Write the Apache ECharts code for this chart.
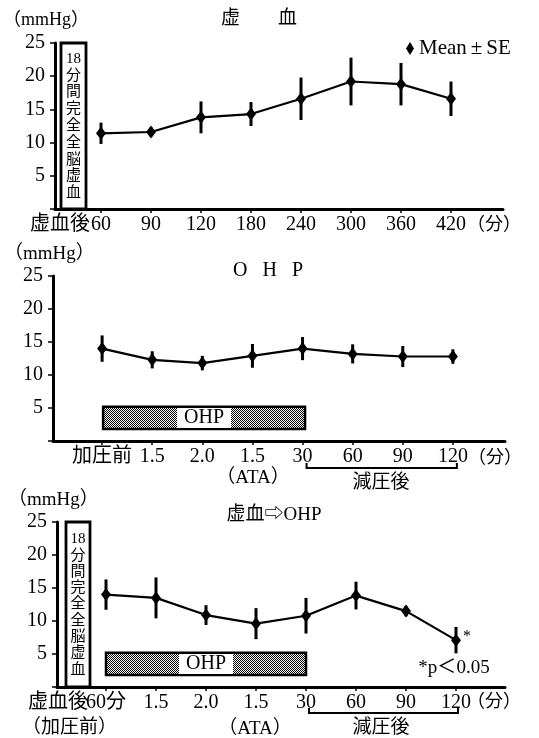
<!DOCTYPE html>
<html>
<head>
<meta charset="utf-8">
<title>虚血 / OHP</title>
<script src="https://cdn.jsdelivr.net/npm/echarts@6/dist/echarts.min.js"></script>
<style>
  html, body { margin: 0; background: #fff; }
  #main { width: 539px; height: 738px; }
</style>
</head>
<body>
<div id="main"></div>
<script>
var FONT = '"Liberation Serif", "Noto Sans CJK JP", serif';

// 上段: 虚血
var labels1 = ['60', '90', '120', '180', '240', '300', '360', '420'];
var mean1 = [11.4, 11.6, 13.8, 14.3, 16.6, 19.2, 18.8, 16.6];
var se1 = [1.6, 0.7, 2.4, 1.8, 3.2, 3.6, 3.2, 2.6];

// 中段: OHP
var labels2 = ['加圧前', '1.5', '2.0', '1.5', '30', '60', '90', '120'];
var mean2 = [14.0, 12.3, 11.8, 12.9, 14.0, 13.2, 12.8, 12.8];
var se2 = [2.0, 1.3, 1.1, 1.8, 1.75, 1.45, 1.6, 1.1];

// 下段: 虚血⇨OHP
var labels3 = ['60分', '1.5', '2.0', '1.5', '30', '60', '90', '120'];
var mean3 = [14.0, 13.5, 10.9, 9.6, 10.8, 13.85, 11.5, 7.1];
var se3 = [2.3, 3.1, 1.5, 2.35, 2.7, 2.1, 0.8, 2.0];
var signif3 = [7]; // *p<0.05

var yTicks = [0, 25, 5];
var boxText = '18\n分\n間\n完\n全\n全\n脳\n虚\n血';

var myChart = echarts.init(document.getElementById('main'));

// 網かけ (OHP のバー)
var pat = document.createElement('canvas');
pat.width = 4; pat.height = 4;
var pctx = pat.getContext('2d');
pctx.fillStyle = '#fff';
pctx.fillRect(0, 0, 4, 4);
pctx.fillStyle = '#000';
for (var py = 0; py < 4; py++) {
    for (var px = 0; px < 4; px++) {
        if ((px + py) % 2 == 0) pctx.fillRect(px, py, 1, 1);
    }
}

var idx8 = [0, 1, 2, 3, 4, 5, 6, 7];

function xAx(gi, min, max, labels) {
    return {
        type: 'value', gridIndex: gi, min: min, max: max,
        axisLine: { onZero: false, lineStyle: { color: '#000', width: 3 } },
        axisTick: { customValues: idx8, length: 4, lineStyle: { color: '#000', width: 1.5 } },
        axisLabel: {
            customValues: idx8, margin: 6, color: '#000', fontSize: 20, fontFamily: FONT,
            formatter: function (v) { return labels[Math.round(v)]; }
        },
        splitLine: { show: false }
    };
}

function yAx(gi) {
    return {
        type: 'value', gridIndex: gi, min: yTicks[0], max: yTicks[1], interval: yTicks[2],
        axisLine: { onZero: false, lineStyle: { color: '#000', width: 3 } },
        axisTick: { length: 5, lineStyle: { color: '#000', width: 1.5 } },
        axisLabel: {
            margin: 10, color: '#000', fontSize: 20, fontFamily: FONT,
            formatter: function (v) { return v == 0 ? '' : v; }
        },
        splitLine: { show: false }
    };
}

function errBars(mean, se, gi) {
    return {
        type: 'custom', xAxisIndex: gi, yAxisIndex: gi, silent: true, z: 3,
        data: mean.map(function (m, i) { return [i, m - se[i], m + se[i]]; }),
        renderItem: function (params, api) {
            var lo = api.coord([api.value(0), api.value(1)]);
            var hi = api.coord([api.value(0), api.value(2)]);
            return {
                type: 'line',
                shape: { x1: lo[0], y1: lo[1], x2: hi[0], y2: hi[1] },
                style: { stroke: '#000', lineWidth: 3 }
            };
        }
    };
}

function meanLine(name, mean, gi, areas, stars) {
    return {
        name: name, type: 'line', xAxisIndex: gi, yAxisIndex: gi, z: 4,
        symbol: 'diamond', symbolSize: [10, 13],
        itemStyle: { color: '#000' },
        lineStyle: { color: '#000', width: 2.2 },
        data: mean.map(function (m, i) {
            if (stars && stars.indexOf(i) >= 0) {
                return { value: [i, m], label: { show: true, formatter: '*', position: 'right',
                    offset: [-3, -3], fontSize: 16, color: '#000', fontFamily: FONT } };
            }
            return [i, m];
        }),
        markArea: { silent: true, data: areas }
    };
}

function boxArea(x0, x1, lh) {
    return [{
        coord: [x0, 0],
        itemStyle: { color: '#fff', borderColor: '#000', borderWidth: 2.8 },
        label: { show: true, position: 'inside', formatter: boxText, color: '#000',
            fontSize: 15, lineHeight: lh, fontFamily: FONT }
    }, { coord: [x1, 25] }];
}

function ohpArea(x0, x1) {
    return [{
        coord: [x0, 1.8],
        itemStyle: { color: { image: pat, repeat: 'repeat' }, borderColor: '#000', borderWidth: 2.5 },
        label: { show: true, position: 'inside', formatter: 'OHP', color: '#000', fontSize: 20,
            fontFamily: FONT, backgroundColor: '#fff', padding: [0, 7] }
    }, { coord: [x1, 5.2] }];
}

// 減圧後 の括弧
function bracket(gi, a, b, drop) {
    return {
        type: 'custom', xAxisIndex: gi, yAxisIndex: gi, silent: true,
        data: [[a, b]],
        renderItem: function (params, api) {
            var p1 = api.coord([api.value(0), 0]);
            var p2 = api.coord([api.value(1), 0]);
            var y = p1[1] + drop;
            return {
                type: 'polyline',
                shape: { points: [[p1[0], y - 5], [p1[0], y], [p2[0], y], [p2[0], y - 5]] },
                style: { stroke: '#000', fill: null, lineWidth: 2 }
            };
        }
    };
}

function txt(s, x, y, size, align) {
    return {
        type: 'text', x: x, y: y,
        style: { text: s, fill: '#000', font: size + 'px ' + FONT,
            textAlign: align || 'center', textVerticalAlign: 'middle' }
    };
}

option = {
    backgroundColor: '#fff',
    animation: false,
    legend: {
        data: ['Mean±SE'], left: 401, top: 33, icon: 'diamond',
        itemWidth: 8, itemHeight: 13, itemGap: 4,
        formatter: 'Mean{pm|±}SE',
        textStyle: { color: '#000', fontSize: 21, fontFamily: FONT,
            rich: { pm: { fontSize: 21, fontFamily: FONT, padding: [0, 4] } } }
    },
    grid: [
        { left: 55, top: 43, width: 448, height: 166 },
        { left: 53, top: 276, width: 452, height: 165 },
        { left: 57, top: 522, width: 448, height: 165 }
    ],
    xAxis: [
        xAx(0, -0.92, 8.04, labels1),
        xAx(1, -0.98, 8.04, labels2),
        xAx(2, -0.98, 7.98, labels3)
    ],
    yAxis: [yAx(0), yAx(1), yAx(2)],
    graphic: [
        txt('（mmHg）', 3, 20, 18, 'left'),
        txt('虚　　血', 259, 19, 19),
        txt('虚血後', 90, 225, 20, 'right'),
        txt('（分）', 467, 225, 18, 'left'),

        txt('（mmHg）', 4, 254, 19, 'left'),
        txt('O   H   P', 268, 271, 20),
        txt('（ATA）', 253, 478, 19),
        txt('減圧後', 381, 483, 19),
        txt('（分）', 468, 458, 18, 'left'),

        txt('（mmHg）', 8, 500, 19, 'left'),
        txt('虚血⇨OHP', 274, 515, 19),
        txt('虚血後', 88, 703, 20, 'right'),
        txt('（加圧前）', 22, 728, 19, 'left'),
        txt('（ATA）', 255, 729, 19),
        txt('減圧後', 381, 728, 19),
        txt('（分）', 467, 702, 18, 'left'),
        txt('*p＜0.05', 454, 668, 19)
    ],
    series: [
        meanLine('Mean±SE', mean1, 0, [boxArea(-0.8, -0.3, 16.8)]),
        errBars(mean1, se1, 0),

        meanLine('OHP', mean2, 1, [ohpArea(0.02, 4.05)]),
        errBars(mean2, se2, 1),
        bracket(1, 4.08, 7.08, 27),

        meanLine('虚血⇨OHP', mean3, 2, [boxArea(-0.8, -0.32, 16.3), ohpArea(0.0, 4.0)], signif3),
        errBars(mean3, se3, 2),
        bracket(2, 4.06, 7.04, 26)
    ]
};

myChart.setOption(option);
</script>
</body>
</html>
